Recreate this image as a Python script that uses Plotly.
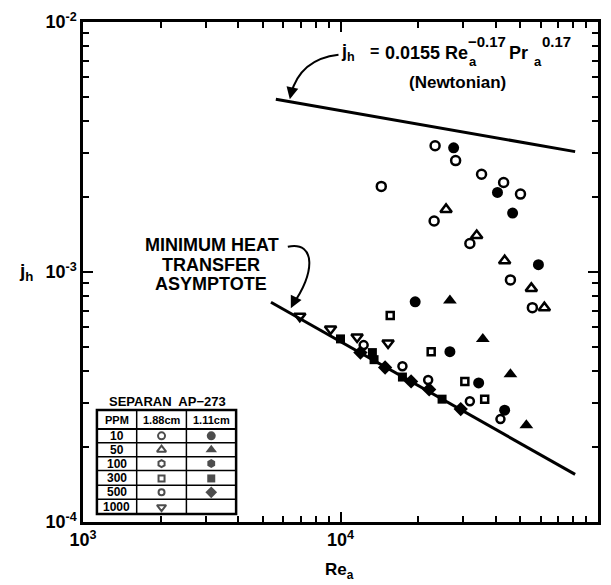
import plotly.graph_objects as go

# ---------------- data ----------------
re_10_188 = [14400, 23300, 28000, 35300, 43000, 50000]
jh_10_188 = [0.00220, 0.00320, 0.00279, 0.00246, 0.00228, 0.00205]
re_10_111 = [27500, 40700, 46600, 58700]
jh_10_111 = [0.00314, 0.00208, 0.00172, 0.00107]
re_50_188 = [25700, 33800, 43400, 55100, 61900]
jh_50_188 = [0.00178, 0.00140, 0.00111, 0.00086, 0.00072]
re_50_111 = [26600, 35700, 45700, 52700]
jh_50_111 = [0.00077, 0.00054, 0.00039, 0.000244]
re_100_188 = [23100, 31800, 45700, 55600]
jh_100_188 = [0.00160, 0.00130, 0.00093, 0.00072]
re_100_111 = [19500, 26600, 34400, 43400]
jh_100_111 = [0.00076, 0.00048, 0.00036, 0.00028]
re_300_188 = [15600, 22500, 30400, 36300]
jh_300_188 = [0.00067, 0.00048, 0.000365, 0.00031]
re_300_111 = [10000, 13300, 13500, 17400, 24800]
jh_300_111 = [0.00054, 0.000476, 0.000446, 0.00038, 0.00031]
re_500_188 = [12300, 17400, 21900, 31800, 41800]
jh_500_188 = [0.00051, 0.00042, 0.00037, 0.000304, 0.000258]
re_500_111 = [11950, 14900, 18800, 22100, 29300]
jh_500_111 = [0.000476, 0.000415, 0.000365, 0.000339, 0.000283]
re_1000_188 = [6950, 9150, 11600, 15300]
jh_1000_188 = [0.000666, 0.000592, 0.00055, 0.00052]

newt_re = [5610, 81500]
newt_jh = [0.00491, 0.00303]
asym_re = [5370, 81500]
asym_jh = [0.000757, 0.000155]

x_tickvals = [1e3, 1e4, 1e5]
x_ticktext = ["10<sup>3</sup>", "10<sup>4</sup>", "10<sup>5</sup>"]
y_tickvals = [1e-4, 1e-3, 1e-2]
y_ticktext = ["10<sup>-4</sup>", "10<sup>-3</sup>", "10<sup>-2</sup>"]

legend_ppm = ["10", "50", "100", "300", "500", "1000"]

# ---------------- layout helpers (pixel -> paper) ----------------
W, H = 611, 585
L, R, T, B = 83, 601, 17, 522
PW, PH = R - L, B - T


def px(x):
    return (x - L) / PW


def py(y):
    return (B - y) / PH


FONT = "Liberation Sans"
BLK = "black"

fig = go.Figure()

# lines
fig.add_trace(go.Scatter(x=newt_re, y=newt_jh, mode="lines",
                         line=dict(color=BLK, width=3), hoverinfo="skip"))
fig.add_trace(go.Scatter(x=asym_re, y=asym_jh, mode="lines",
                         line=dict(color=BLK, width=3), hoverinfo="skip"))

series = [
    (re_10_188, jh_10_188, "circle-open", 9),
    (re_10_111, jh_10_111, "circle", 11),
    (re_50_188, jh_50_188, "triangle-up-open", 10),
    (re_50_111, jh_50_111, "triangle-up", 12),
    (re_100_188, jh_100_188, "circle-open", 9),
    (re_100_111, jh_100_111, "circle", 11),
    (re_300_188, jh_300_188, "square-open", 7),
    (re_300_111, jh_300_111, "square", 9),
    (re_500_188, jh_500_188, "circle-open", 8),
    (re_500_111, jh_500_111, "diamond", 11),
    (re_1000_188, jh_1000_188, "triangle-down-open", 10),
]
for xs, ys, sym, sz in series:
    open_ = sym.endswith("-open")
    fig.add_trace(go.Scatter(
        x=xs, y=ys, mode="markers",
        marker=dict(symbol=sym, size=sz, color=BLK,
                    line=dict(color=BLK, width=2.5 if open_ else 0)),
        hoverinfo="skip", cliponaxis=False))

# ---------------- legend table (markers on overlay paper axes) ----------------
row_y = [435, 449, 463, 478, 492, 507]
col2_sym = ["circle-open", "triangle-up-open", "hexagon-open", "square-open", "circle-open", "triangle-down-open"]
col3_sym = ["circle", "triangle-up", "hexagon", "square", "diamond", None]
c2x, c3x = 162, 212
fig.add_trace(go.Scatter(
    x=[px(c2x)] * 6, y=[py(v) for v in row_y], mode="markers", xaxis="x2", yaxis="y2",
    marker=dict(symbol=col2_sym, size=[7, 8, 7, 6, 6, 8], color=BLK, line=dict(color=BLK, width=2)),
    hoverinfo="skip", cliponaxis=False))
fig.add_trace(go.Scatter(
    x=[px(c3x)] * 5, y=[py(v) for v in row_y[:5]], mode="markers", xaxis="x2", yaxis="y2",
    marker=dict(symbol=col3_sym[:5], size=[9, 10, 9, 8, 9], color=BLK, line=dict(width=0)),
    hoverinfo="skip", cliponaxis=False))

shapes = []
# table outer
shapes.append(dict(type="rect", xref="paper", yref="paper", x0=px(97), x1=px(237), y0=py(514), y1=py(409),
                   line=dict(color=BLK, width=2.5)))
shapes.append(dict(type="line", xref="paper", yref="paper", x0=px(97), x1=px(237), y0=py(428), y1=py(428),
                   line=dict(color=BLK, width=2)))
for yy in [442, 456, 470, 485, 499]:
    shapes.append(dict(type="line", xref="paper", yref="paper", x0=px(97), x1=px(237), y0=py(yy), y1=py(yy),
                       line=dict(color=BLK, width=1.5)))
for xx in [137, 187]:
    shapes.append(dict(type="line", xref="paper", yref="paper", x0=px(xx), x1=px(xx), y0=py(514), y1=py(409),
                       line=dict(color=BLK, width=1.5)))


def pth(pts, cmd):
    s = ""
    for c, (x, y) in zip(cmd, pts):
        s += f"{c} {px(x):.4f},{py(y):.4f} "
    return s.strip()


# curved leaders
shapes.append(dict(type="path", xref="paper", yref="paper",
                   path=pth([(340, 50), (322, 52), (300, 60), (292, 90)], ["M", "C", "", ""]),
                   line=dict(color=BLK, width=2)))
shapes.append(dict(type="path", xref="paper", yref="paper",
                   path=pth([(289, 244), (318, 238), (316, 272), (294, 302)], ["M", "C", "", ""]),
                   line=dict(color=BLK, width=2)))

ann = []


def txt(x, y, s, size, xanchor="center", yanchor="middle"):
    ann.append(dict(x=px(x), y=py(y), xref="paper", yref="paper", text=s, showarrow=False,
                    xanchor=xanchor, yanchor=yanchor, borderpad=0,
                    font=dict(family=FONT, size=size, color=BLK, weight="bold")))


# equation
txt(341, 48, "j<sub>h</sub>", 18, "left")
txt(371, 47, "=", 16, "left")
txt(386, 48, "0.0155", 18, "left")
txt(446, 48, "Re", 18, "left")
txt(469, 37, "−0.17", 15, "left")
txt(470, 57, "a", 13, "left")
txt(510, 48, "Pr", 18, "left")
txt(544, 37, "0.17", 15, "left")
txt(536, 57, "a", 13, "left")
txt(460, 78, "(Newtonian)", 17)

# asymptote label
txt(213, 242, "MINIMUM HEAT", 18)
txt(212, 262, "TRANSFER", 18)
txt(212, 282, "ASYMPTOTE", 18)

# axis titles
txt(26, 270, "j<sub>h</sub>", 19)
txt(341, 571, "Re<sub>a</sub>", 17)

# table text
txt(168, 400, "SEPARAN  AP−273", 13)
txt(117, 419, "PPM", 11)
txt(162, 419, "1.88cm", 11)
txt(212, 419, "1.11cm", 11)
for lab, yy in zip(legend_ppm, row_y):
    txt(117, yy, lab, 12)

# arrowheads
ann.append(dict(x=px(291), y=py(95), xref="paper", yref="paper", text="", showarrow=True,
                ax=2, ay=-9, arrowhead=2, arrowsize=1.2, arrowwidth=2, arrowcolor=BLK))
ann.append(dict(x=px(292), y=py(306), xref="paper", yref="paper", text="", showarrow=True,
                ax=5, ay=-10, arrowhead=2, arrowsize=1.2, arrowwidth=2, arrowcolor=BLK))

minor_x = [k * 10 ** e for e in range(3, 5) for k in range(2, 10)]
minor_y = [k * 10.0 ** e for e in range(-4, -2) for k in range(2, 10)]

axis_common = dict(type="log", showgrid=False, zeroline=False, showline=True, linecolor=BLK,
                   linewidth=2.5, mirror="allticks", ticks="inside", ticklen=10, tickwidth=2,
                   tickcolor=BLK, tickmode="array",
                   tickfont=dict(family=FONT, size=18, color=BLK, weight="bold"))

fig.update_layout(
    width=W, height=H,
    margin=dict(l=L, r=W - R, t=T, b=H - B),
    paper_bgcolor="white", plot_bgcolor="white",
    showlegend=False,
    xaxis=dict(**axis_common, range=[3, 5], tickvals=x_tickvals, ticktext=x_ticktext,
               minor=dict(tickmode="array", tickvals=minor_x, ticks="inside", ticklen=6,
                          tickwidth=1.5, tickcolor=BLK, showgrid=False)),
    yaxis=dict(**axis_common, range=[-4, -2], tickvals=y_tickvals, ticktext=y_ticktext,
               minor=dict(tickmode="array", tickvals=minor_y, ticks="inside", ticklen=6,
                          tickwidth=1.5, tickcolor=BLK, showgrid=False)),
    xaxis2=dict(domain=[0, 1], range=[0, 1], overlaying="x", visible=False, anchor="y2"),
    yaxis2=dict(domain=[0, 1], range=[0, 1], overlaying="y", visible=False, anchor="x2"),
    shapes=shapes,
    annotations=ann,
)

fig.write_html("out.html")
